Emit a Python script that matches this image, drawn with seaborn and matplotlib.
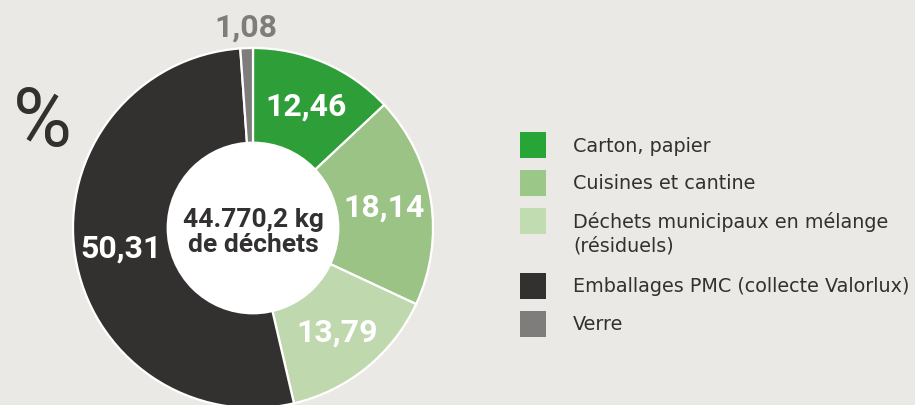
import matplotlib
matplotlib.use("Agg")
import matplotlib.pyplot as plt
from matplotlib.patches import Circle, Rectangle
import numpy as np
import seaborn as sns

# Waste composition (% of total mass)
categories = [
    "Carton, papier",
    "Cuisines et cantine",
    "Déchets municipaux en mélange\n(résiduels)",
    "Emballages PMC (collecte Valorlux)",
    "Verre",
]
shares = [12.46, 18.14, 13.79, 50.31, 1.08]
share_labels = ["12,46", "18,14", "13,79", "50,31", "1,08"]
colors = ["#2e9e38", "#9bc386", "#bfd8ae", "#333030", "#7f7d7b"]
legend_colors = ["#27a637", "#9bc888", "#c0dcb0", "#333030", "#7f7d7b"]
total_text = "44.770,2 kg\nde déchets"

BG = "#ebe9e5"
DARK = "#333030"

sns.set_theme(style="white")
plt.rcParams["font.family"] = ["Roboto", "DejaVu Sans"]

W, H = 915, 406
fig = plt.figure(figsize=(W / 100, H / 100), dpi=100, facecolor=BG)

# Donut axes: centre (253, 229) px, outer radius 180 px
cx, cy, R = 253, 229, 180
ax = fig.add_axes([(cx - R) / W, (H - cy - R) / H, 2 * R / W, 2 * R / H])
ax.set_facecolor("none")
ax.set_aspect("equal")
ax.axis("off")

wedges, _ = ax.pie(
    shares,
    colors=colors,
    startangle=90,
    counterclock=False,
    radius=1.0,
    wedgeprops=dict(edgecolor="white", linewidth=1.6),
)
ax.add_patch(Circle((0, 0), 0.48, facecolor="white", edgecolor="none", zorder=3))
ax.set_xlim(-1, 1)
ax.set_ylim(-1, 1)

# Value labels placed at the middle angle of each wedge
for i, (w, lab) in enumerate(zip(wedges, share_labels)):
    mid = np.deg2rad((w.theta1 + w.theta2) / 2)
    outside = shares[i] < 5
    r = 1.12 if outside else 0.74
    ax.text(
        r * np.cos(mid), r * np.sin(mid), lab,
        ha="center", va="center",
        fontsize=23, fontweight="bold",
        color=colors[i] if outside else "white",
        zorder=4, clip_on=False,
    )

ax.text(0, -0.02, total_text, ha="center", va="center", fontsize=19,
        fontweight="bold", color=DARK, linespacing=1.05, zorder=4)

fig.text(42 / W, 1 - 124 / H, "%", ha="center", va="center",
         fontsize=58, color=DARK)

# Legend
row_y = [146, 184, 222, 287, 325]
for y, c, lab in zip(row_y, legend_colors, categories):
    fig.patches.append(Rectangle((520 / W, 1 - (y + 13) / H), 26 / W, 26 / H,
                                 transform=fig.transFigure, facecolor=c,
                                 edgecolor="none"))
    n_extra = lab.count("\n")
    fig.text(573 / W, 1 - (y + 12 * n_extra) / H, lab, ha="left", va="center",
             fontsize=13.8, color=DARK, linespacing=1.3,
             family=["DejaVu Sans"])

fig.savefig("out.png", dpi=100, facecolor=BG)
